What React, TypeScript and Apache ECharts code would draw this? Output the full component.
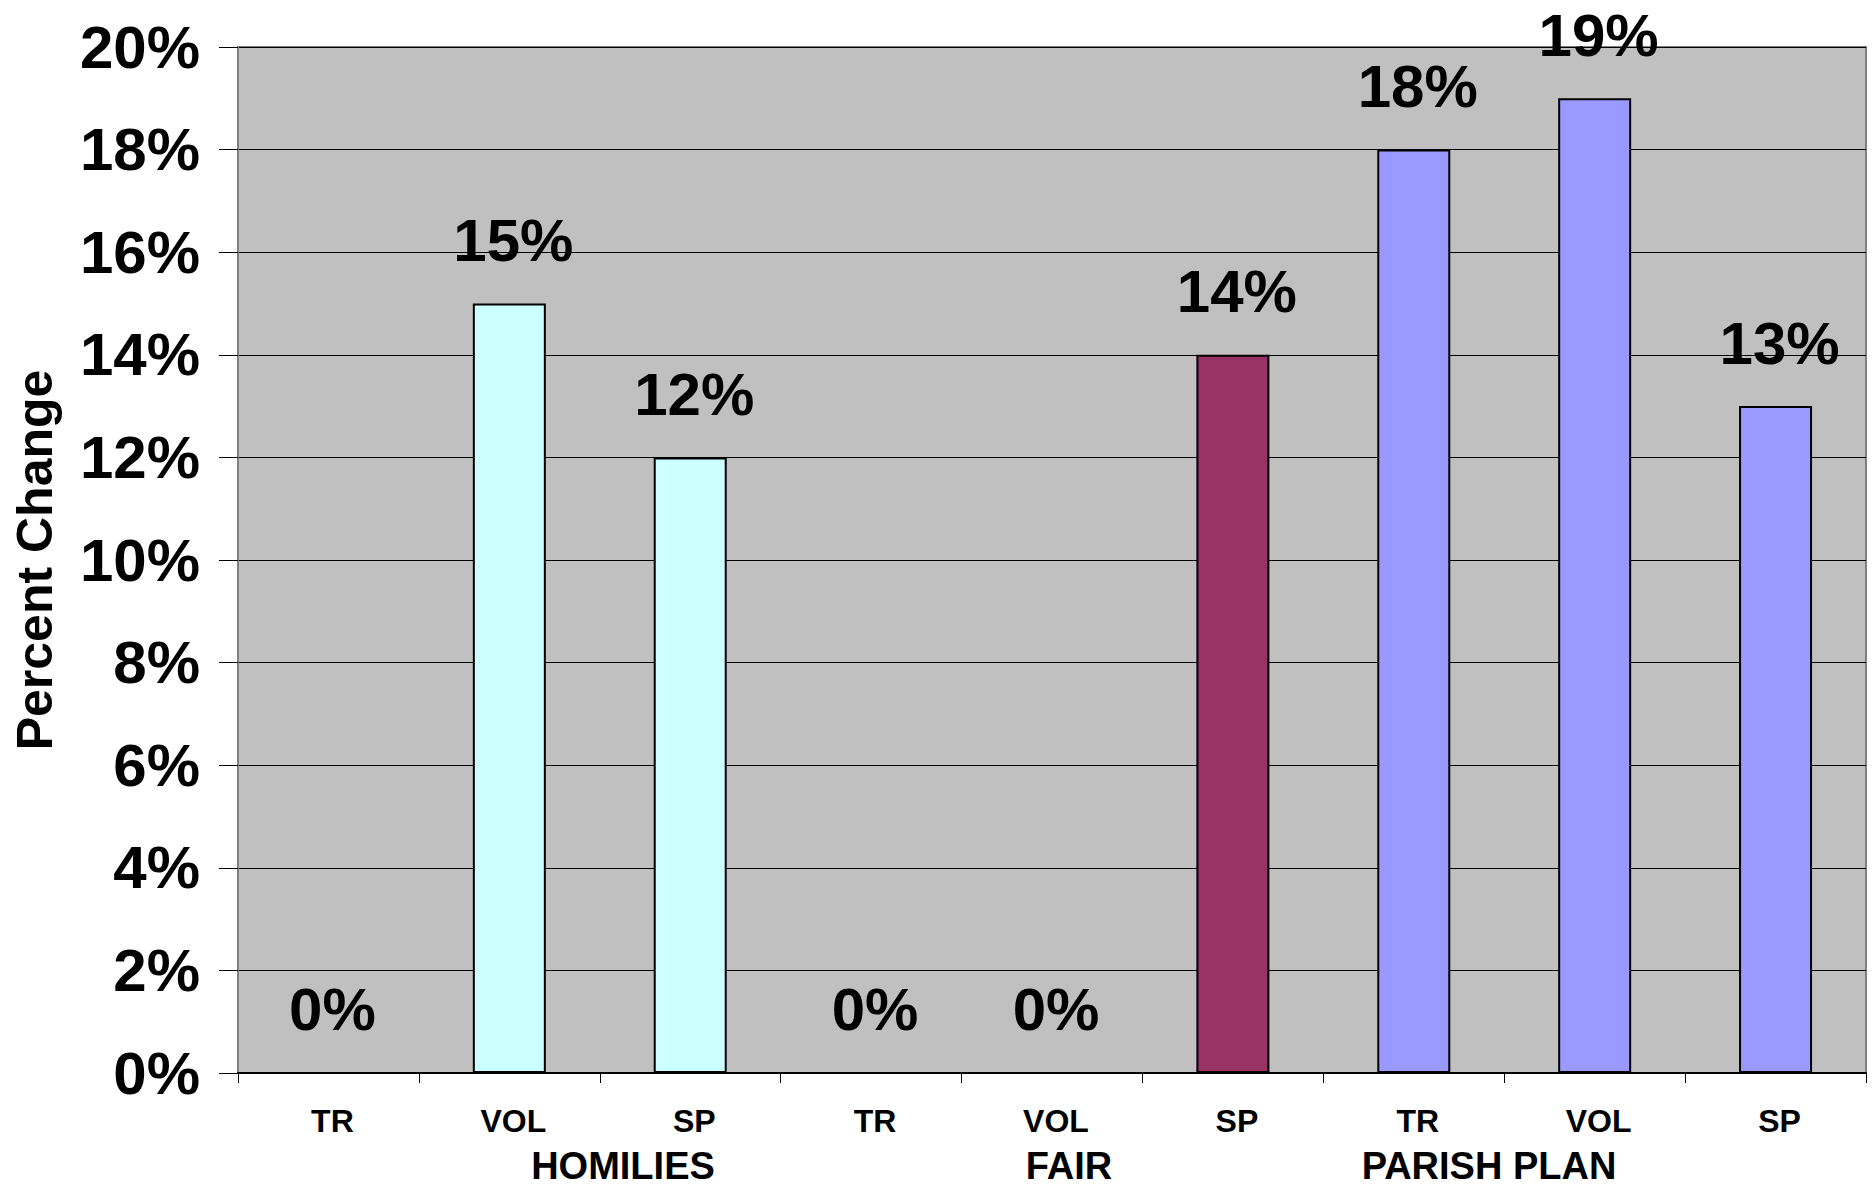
import React, { useEffect, useRef } from "react";
import * as echarts from "echarts";

const groups = ["HOMILIES", "FAIR", "PARISH PLAN"];
const subLabels = ["TR", "VOL", "SP"];
const values = [0, 15, 12, 0, 0, 14, 18, 19, 13];
const groupColors = ["#CCFFFF", "#993366", "#9999FF"];
const yTicks = [0, 2, 4, 6, 8, 10, 12, 14, 16, 18, 20];

const FONT = "'Liberation Sans', Arial, Helvetica, sans-serif";

export default function App() {
  const ref = useRef<HTMLDivElement>(null);
  useEffect(() => {
    if (!ref.current) return;
    const chart = echarts.init(ref.current, null, { renderer: "svg" });
    const categories: string[] = [];
    const colors: string[] = [];
    groups.forEach((g, gi) => {
      subLabels.forEach((s) => {
        categories.push(g + "|" + s);
        colors.push(groupColors[gi]);
      });
    });
    chart.setOption({
      animation: false,
      backgroundColor: "#ffffff",
      textStyle: { fontFamily: FONT },
      grid: {
        left: 238,
        right: 7,
        top: 47,
        bottom: 113,
        show: true,
        backgroundColor: "#C0C0C0",
        borderColor: "#808080",
        borderWidth: 2,
      },
      xAxis: {
        type: "category",
        data: categories,
        boundaryGap: true,
        axisLine: { show: true, lineStyle: { color: "#000", width: 2 } },
        axisTick: { show: true, length: 10, lineStyle: { color: "#000", width: 1 } },
        axisLabel: {
          margin: 32,
          fontSize: 32,
          fontWeight: "bold",
          color: "#000",
          fontFamily: FONT,
          interval: 0,
          padding: [0, 0, 0, 8],
          formatter: (v: string) => v.split("|")[1],
        },
        splitLine: { show: false },
      },
      yAxis: {
        type: "value",
        min: yTicks[0],
        max: yTicks[yTicks.length - 1],
        interval: 2,
        name: "Percent Change",
        nameLocation: "middle",
        nameGap: 178,
        nameTextStyle: { fontSize: 50, fontWeight: "bold", color: "#000", fontFamily: FONT },
        axisLine: { show: true, lineStyle: { color: "#808080", width: 2 } },
        axisTick: { show: true, length: 19, lineStyle: { color: "#000", width: 1 } },
        axisLabel: {
          margin: 38,
          fontSize: 60,
          fontWeight: "bold",
          color: "#000",
          fontFamily: FONT,
          formatter: "{value}%",
        },
        splitLine: { show: true, lineStyle: { color: "#000", width: 1 } },
      },
      series: [
        {
          type: "bar",
          barWidth: 73,
          data: values.map((v, i) => ({
            value: v,
            itemStyle: { color: colors[i], borderColor: "#000", borderWidth: 2 },
          })),
          label: {
            show: true,
            position: "top",
            distance: 33,
            offset: [4, 0],
            fontSize: 60,
            fontWeight: "bold",
            color: "#000",
            fontFamily: FONT,
            formatter: "{c}%",
          },
        },
      ],
      graphic: [
        { x: 623, y: 1166, label: groups[0] },
        { x: 1069, y: 1166, label: groups[1] },
        { x: 1489, y: 1166, label: groups[2] },
      ].map((g) => ({
        type: "text",
        x: g.x,
        y: g.y,
        style: {
          text: g.label,
          font: `bold 38px ${FONT}`,
          fill: "#000",
          align: "center",
          verticalAlign: "middle",
        },
      })),
    });
    return () => chart.dispose();
  }, []);
  return (
    <div
      ref={ref}
      style={{ position: "absolute", left: 0, top: 0, width: 1873, height: 1186 }}
    />
  );
}
